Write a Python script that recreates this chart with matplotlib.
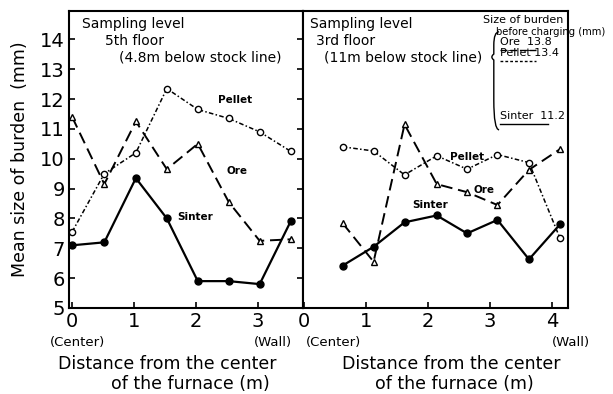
import matplotlib
matplotlib.use("Agg")
import matplotlib.pyplot as plt
from matplotlib.path import Path
from matplotlib.patches import PathPatch

plt.rcParams['font.family'] = ['DejaVu Sans']

# 5th floor (4.8 m below stock line)
x5 = [0.0, 0.52, 1.03, 1.53, 2.03, 2.53, 3.03, 3.53]
sinter5 = [7.1, 7.2, 9.35, 8.0, 5.9, 5.9, 5.8, 7.9]
ore5 = [11.4, 9.15, 11.25, 9.65, 10.5, 8.55, 7.25, 7.3]
pellet5 = [7.55, 9.5, 10.2, 12.35, 11.65, 11.35, 10.9, 10.25]

# 3rd floor (11 m below stock line)
x3 = [0.62, 1.12, 1.62, 2.14, 2.63, 3.12, 3.63, 4.13]
sinter3 = [6.42, 7.05, 7.87, 8.1, 7.5, 7.95, 6.63, 7.8]
ore3 = [7.84, 6.55, 11.15, 9.15, 8.88, 8.45, 9.63, 10.32]
pellet3 = [10.4, 10.26, 9.46, 10.1, 9.65, 10.14, 9.87, 7.34]

yticks = [5, 6, 7, 8, 9, 10, 11, 12, 13, 14]

fig = plt.figure(figsize=(6.13, 3.94), dpi=100)
ax1 = fig.add_axes([0.1126, 0.2183, 0.3817, 0.7538])
ax2 = fig.add_axes([0.4943, 0.2183, 0.4323, 0.7538])


def draw(ax, x, sinter, ore, pellet):
    ax.plot(x, sinter, '-', color='black', lw=1.6, marker='o', ms=5,
            mfc='black', mec='black')
    ax.plot(x, ore, color='black', lw=1.4, ls=(0, (6, 3)), marker='^',
            ms=5, mfc='white', mec='black', mew=1.0)
    ax.plot(x, pellet, color='black', lw=1.1, ls=(0, (3, 1.5, 1, 1.5)),
            marker='o', ms=4.5, mfc='white', mec='black', mew=1.0)
    ax.set_ylim(5, 14.95)
    ax.set_yticks(yticks)
    for s in ax.spines.values():
        s.set_linewidth(1.5)
    ax.tick_params(direction='in', length=4, width=1.2, labelsize=14, pad=3)


draw(ax1, x5, sinter5, ore5, pellet5)
draw(ax2, x3, sinter3, ore3, pellet3)

ax1.set_xlim(-0.05, 3.73)
ax1.set_xticks([0, 1, 2, 3])
ax1.tick_params(axis='y', right=True)
ax1.set_ylabel('Mean size of burden  (mm)', fontsize=12.5, labelpad=8)

ax2.set_xlim(-0.02, 4.26)
ax2.set_xticks([0, 1, 2, 3, 4])
ax2.tick_params(axis='y', left=False, labelleft=False)

for ax, cx, cx2 in [(ax1, 0.42, 0.52), (ax2, 0.56, 0.57)]:
    ax.text(cx, -0.19, 'Distance from the center', transform=ax.transAxes,
            ha='center', va='center', fontsize=12.5)
    ax.text(cx2, -0.255, 'of the furnace (m)', transform=ax.transAxes,
            ha='center', va='center', fontsize=12.5)

small = dict(fontsize=9.5, va='center')
ax1.text(-0.08, -0.115, '(Center)', transform=ax1.transAxes, **small)
ax1.text(0.79, -0.115, '(Wall)', transform=ax1.transAxes, **small)
ax2.text(0.01, -0.115, '(Center)', transform=ax2.transAxes, **small)
ax2.text(0.94, -0.115, '(Wall)', transform=ax2.transAxes, **small)

# sampling level notes
ax1.text(0.055, 0.955, 'Sampling level', transform=ax1.transAxes, fontsize=10, va='center')
ax1.text(0.155, 0.9, '5th floor', transform=ax1.transAxes, fontsize=10, va='center')
ax1.text(0.215, 0.845, '(4.8m below stock line)', transform=ax1.transAxes, fontsize=10, va='center')
ax2.text(0.025, 0.955, 'Sampling level', transform=ax2.transAxes, fontsize=10, va='center')
ax2.text(0.05, 0.9, '3rd floor', transform=ax2.transAxes, fontsize=10, va='center')
ax2.text(0.08, 0.845, '(11m below stock line)', transform=ax2.transAxes, fontsize=10, va='center')

# curve names
lab = dict(fontsize=7.5, fontweight='bold', va='center')
ax1.text(2.35, 11.98, 'Pellet', **lab)
ax1.text(2.5, 9.6, 'Ore', **lab)
ax1.text(1.7, 8.05, 'Sinter', **lab)
ax2.text(2.36, 10.05, 'Pellet', **lab)
ax2.text(2.73, 8.95, 'Ore', **lab)
ax2.text(1.74, 8.45, 'Sinter', **lab)

# burden size before charging
ax2.text(0.68, 0.97, 'Size of burden', transform=ax2.transAxes, fontsize=8, va='center')
ax2.text(0.73, 0.93, 'before charging (mm)', transform=ax2.transAxes, fontsize=7.2,
         va='center', clip_on=False)
ref = [('Ore  13.8', 0.895, (0, (5, 2))), ('Pellet 13.4', 0.858, (0, (2, 1.5))),
       ('Sinter  11.2', 0.645, '-')]
for txt, yy, ls in ref:
    ax2.text(0.745, yy, txt, transform=ax2.transAxes, fontsize=8, va='center')
    ax2.plot([0.745, 0.925 if 'Sinter' in txt else 0.88], [yy - 0.025] * 2,
             transform=ax2.transAxes, color='black', lw=1.0, ls=ls)

# brace joining the 3rd floor note to the reference sizes
bx, by = 0.72, 0.845
verts = [(bx + 0.02, 0.93), (bx, 0.93), (bx, 0.885), (bx, by + 0.01),
         (bx - 0.015, by), (bx, by - 0.01), (bx, 0.7), (bx, 0.6), (bx + 0.02, 0.6)]
codes = [Path.MOVETO, Path.CURVE3, Path.CURVE3, Path.LINETO, Path.CURVE3,
         Path.CURVE3, Path.LINETO, Path.CURVE3, Path.CURVE3]
ax2.add_patch(PathPatch(Path(verts, codes), transform=ax2.transAxes,
                        fill=False, lw=1.0, color='black'))

fig.savefig('out.png', dpi=100)
